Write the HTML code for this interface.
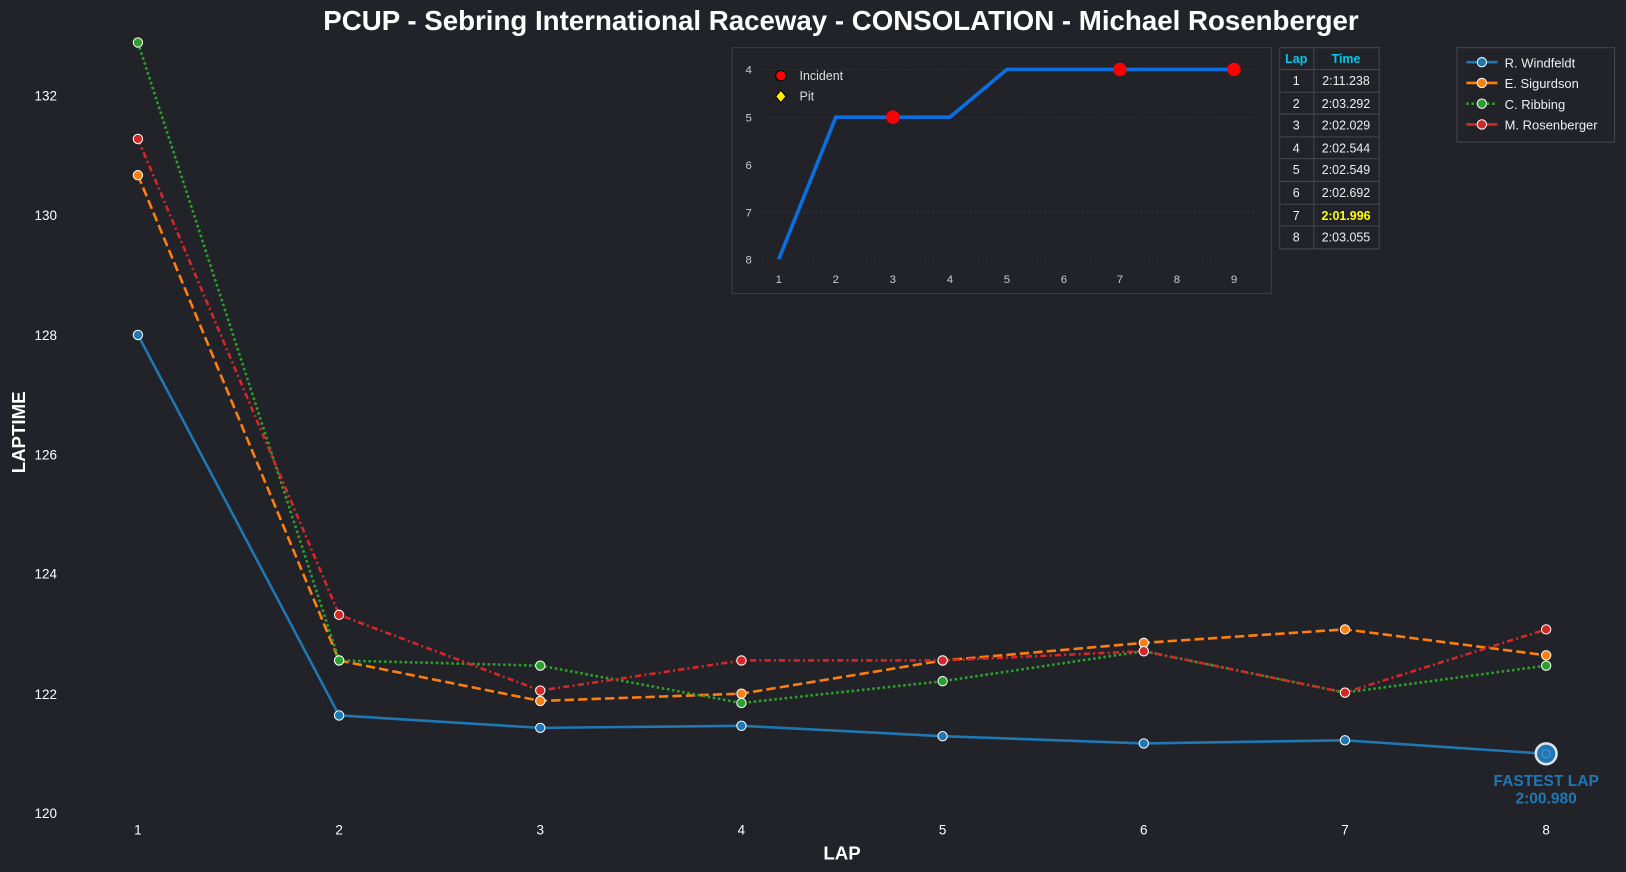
<!DOCTYPE html>
<html><head><meta charset="utf-8"><style>
html,body{margin:0;padding:0;background:#212328;}
svg{display:block;font-family:"Liberation Sans",sans-serif;}
</style></head><body>
<svg width="1626" height="872" viewBox="0 0 1568 841" preserveAspectRatio="none" xmlns="http://www.w3.org/2000/svg">
<rect width="1568" height="841" fill="#212328"/>
<text x="811" y="29" fill="#fff" font-size="26.7" font-weight="bold" text-anchor="middle">PCUP - Sebring International Raceway - CONSOLATION - Michael Rosenberger</text>
<g fill="#fff" font-size="13" text-anchor="end">
<text x="55" y="789">120</text><text x="55" y="674">122</text><text x="55" y="558">124</text>
<text x="55" y="443">126</text><text x="55" y="328">128</text><text x="55" y="212">130</text><text x="55" y="97">132</text>
</g>
<g fill="#fff" font-size="13" text-anchor="middle">
<text x="133" y="805">1</text><text x="327" y="805">2</text><text x="521" y="805">3</text><text x="715" y="805">4</text>
<text x="909" y="805">5</text><text x="1103" y="805">6</text><text x="1297" y="805">7</text><text x="1491" y="805">8</text>
</g>
<text x="812" y="829" fill="#fff" font-size="18" font-weight="bold" text-anchor="middle">LAP</text>
<text transform="translate(24,417) rotate(-90)" fill="#fff" font-size="18" font-weight="bold" text-anchor="middle">LAPTIME</text>
<g fill="none" stroke-width="2.5">
<polyline stroke="#1f77b4" points="133,323 327,690 521,702 715,700 909,710 1103,717 1297,714 1491,727"/>
<polyline stroke="#ff7f0e" stroke-dasharray="9,4" points="133,169 327,637 521,676 715,669 909,637 1103,620 1297,607 1491,632"/>
<polyline stroke="#2ca02c" stroke-dasharray="2.5,2.5" points="133,41 327,637 521,642 715,678 909,657 1103,628 1297,668 1491,642"/>
<polyline stroke="#d62728" stroke-dasharray="6,3,2,3" points="133,134 327,593 521,666 715,637 909,637 1103,628 1297,668 1491,607"/>
</g>
<g stroke="#fff" stroke-width="1">
<g fill="#1f77b4"><circle cx="133" cy="323" r="4.5"/><circle cx="327" cy="690" r="4.5"/><circle cx="521" cy="702" r="4.5"/><circle cx="715" cy="700" r="4.5"/><circle cx="909" cy="710" r="4.5"/><circle cx="1103" cy="717" r="4.5"/><circle cx="1297" cy="714" r="4.5"/></g>
<g fill="#ff7f0e"><circle cx="133" cy="169" r="4.5"/><circle cx="327" cy="637" r="4.5"/><circle cx="521" cy="676" r="4.5"/><circle cx="715" cy="669" r="4.5"/><circle cx="909" cy="637" r="4.5"/><circle cx="1103" cy="620" r="4.5"/><circle cx="1297" cy="607" r="4.5"/><circle cx="1491" cy="632" r="4.5"/></g>
<g fill="#2ca02c"><circle cx="133" cy="41" r="4.5"/><circle cx="327" cy="637" r="4.5"/><circle cx="521" cy="642" r="4.5"/><circle cx="715" cy="678" r="4.5"/><circle cx="909" cy="657" r="4.5"/><circle cx="1103" cy="628" r="4.5"/><circle cx="1297" cy="668" r="4.5"/><circle cx="1491" cy="642" r="4.5"/></g>
<g fill="#d62728"><circle cx="133" cy="134" r="4.5"/><circle cx="327" cy="593" r="4.5"/><circle cx="521" cy="666" r="4.5"/><circle cx="715" cy="637" r="4.5"/><circle cx="909" cy="637" r="4.5"/><circle cx="1103" cy="628" r="4.5"/><circle cx="1297" cy="668" r="4.5"/><circle cx="1491" cy="607" r="4.5"/></g>
</g>
<circle cx="1491" cy="727" r="10" fill="#1f77b4" stroke="#dde3ea" stroke-width="2.5"/>
<circle cx="1491" cy="727" r="4" fill="none" stroke="#4a9ad6" stroke-width="1"/>
<text x="1491" y="758" fill="#1f77b4" font-size="15" font-weight="bold" text-anchor="middle">FASTEST LAP</text>
<text x="1491" y="775" fill="#1f77b4" font-size="15" font-weight="bold" text-anchor="middle">2:00.980</text>
<rect x="706" y="46" width="520" height="237" fill="#212328" stroke="#3b3e44" stroke-width="1"/>
<g stroke="#33363c" stroke-width="0.8" stroke-dasharray="2,2">
<line x1="735" y1="67" x2="1212" y2="67"/><line x1="735" y1="113" x2="1212" y2="113"/><line x1="735" y1="159" x2="1212" y2="159"/><line x1="735" y1="205" x2="1212" y2="205"/><line x1="735" y1="250" x2="1212" y2="250"/>
</g>
<g fill="#ccc" font-size="11" text-anchor="middle">
<text x="722" y="71">4</text><text x="722" y="117">5</text><text x="722" y="163">6</text><text x="722" y="209">7</text><text x="722" y="254">8</text>
<text x="751" y="273">1</text><text x="806" y="273">2</text><text x="861" y="273">3</text><text x="916" y="273">4</text><text x="971" y="273">5</text><text x="1026" y="273">6</text><text x="1080" y="273">7</text><text x="1135" y="273">8</text><text x="1190" y="273">9</text>
</g>
<polyline fill="none" stroke="#0a6fe0" stroke-width="3.5" points="751,250 806,113 861,113 916,113 971,67 1026,67 1080,67 1135,67 1190,67"/>
<g fill="#ff0000"><circle cx="861" cy="113" r="6.5"/><circle cx="1080" cy="67" r="6.5"/><circle cx="1190" cy="67" r="6.5"/></g>
<circle cx="753" cy="73" r="5" fill="#ff0000" stroke="#000" stroke-width="1"/>
<text x="771" y="77" fill="#ddd" font-size="12">Incident</text>
<polygon points="753,87 758,93 753,99 748,93" fill="#ffee00" stroke="#000" stroke-width="1"/>
<text x="771" y="97" fill="#ddd" font-size="12">Pit</text>
<g stroke="#44474d" stroke-width="1" fill="none">
<rect x="1234" y="46" width="96" height="194"/>
<line x1="1267" y1="46" x2="1267" y2="240"/>
<line x1="1234" y1="67" x2="1330" y2="67"/><line x1="1234" y1="89" x2="1330" y2="89"/><line x1="1234" y1="110" x2="1330" y2="110"/><line x1="1234" y1="132" x2="1330" y2="132"/><line x1="1234" y1="153" x2="1330" y2="153"/><line x1="1234" y1="175" x2="1330" y2="175"/><line x1="1234" y1="197" x2="1330" y2="197"/><line x1="1234" y1="218" x2="1330" y2="218"/>
</g>
<g font-size="12" text-anchor="middle">
<text x="1250" y="61" fill="#00c8f0" font-weight="bold">Lap</text><text x="1298" y="61" fill="#00c8f0" font-weight="bold">Time</text>
<g fill="#eee">
<text x="1250" y="82">1</text><text x="1298" y="82">2:11.238</text>
<text x="1250" y="104">2</text><text x="1298" y="104">2:03.292</text>
<text x="1250" y="125">3</text><text x="1298" y="125">2:02.029</text>
<text x="1250" y="147">4</text><text x="1298" y="147">2:02.544</text>
<text x="1250" y="168">5</text><text x="1298" y="168">2:02.549</text>
<text x="1250" y="190">6</text><text x="1298" y="190">2:02.692</text>
<text x="1250" y="212">7</text>
<text x="1250" y="233">8</text><text x="1298" y="233">2:03.055</text>
</g>
<text x="1298" y="212" fill="#ffff00" font-weight="bold">2:01.996</text>
</g>
<rect x="1405" y="46" width="152" height="91" fill="#212328" stroke="#44474d" stroke-width="1"/>
<g stroke-width="2.5">
<line x1="1414" y1="60" x2="1444" y2="60" stroke="#1f77b4"/>
<line x1="1414" y1="80" x2="1444" y2="80" stroke="#ff7f0e"/>
<line x1="1414" y1="100" x2="1444" y2="100" stroke="#2ca02c" stroke-dasharray="2.5,2.5"/>
<line x1="1414" y1="120" x2="1444" y2="120" stroke="#d62728"/>
</g>
<g stroke="#fff" stroke-width="1">
<circle cx="1429" cy="60" r="4.5" fill="#1f77b4"/><circle cx="1429" cy="80" r="4.5" fill="#ff7f0e"/><circle cx="1429" cy="100" r="4.5" fill="#2ca02c"/><circle cx="1429" cy="120" r="4.5" fill="#d62728"/>
</g>
<g fill="#eee" font-size="12.5">
<text x="1451" y="65">R. Windfeldt</text><text x="1451" y="85">E. Sigurdson</text><text x="1451" y="105">C. Ribbing</text><text x="1451" y="125">M. Rosenberger</text>
</g>
</svg>
</body></html>
